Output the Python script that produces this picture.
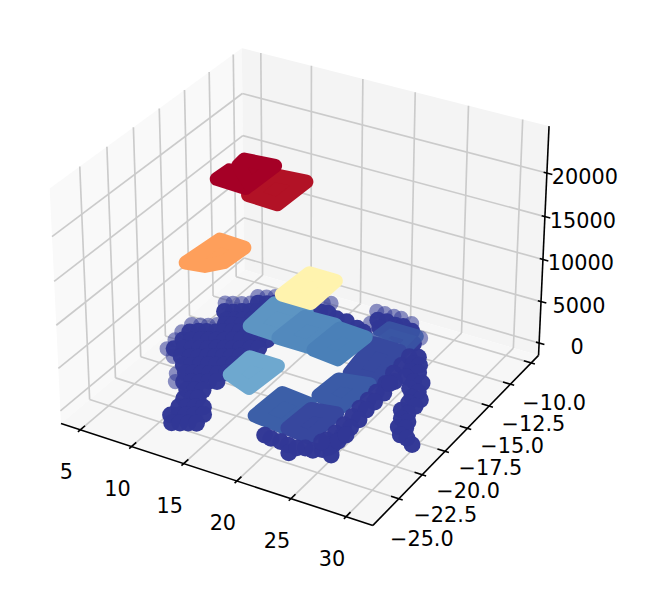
import numpy as np, pandas as pd, altair as alt

# ---- data (x, y); dots sit near z = 200 ----
dot_z = 200
rim = [(5.6,-19.8),(5.4,-18.8),(5.2,-17.9),(5.3,-17.0),(6.0,-16.8),(6.6,-16.6),(7.2,-16.3),(5.9,-14.1),(6.5,-13.9),(7.2,-13.7),
       (7.8,-13.4),(7.8,-12.6),(8.5,-12.4),(9.1,-12.1),(6.7,-20.3),(8.4,-21.7),(9.0,-22.4),(18.5,-12.0),(18.0,-10.7),(18.8,-10.7),
       (19.7,-10.7),(20.4,-10.7),(21.6,-10.9),(23.4,-12.0),(13.3,-11.4),(13.9,-11.2)]
core = [(8.4,-13.2),(9.1,-13.0),(9.7,-12.7),(6.6,-14.9),(7.3,-14.7),(7.9,-14.4),(8.5,-14.2),(9.1,-14.0),(9.8,-13.8),(7.5,-15.6),
        (8.1,-15.4),(8.7,-15.2),(9.4,-14.9),(7.8,-16.1),(8.4,-15.9),(9.1,-15.7),(5.8,-17.7),(6.4,-17.4),(7.0,-17.2),(7.7,-17.0),
        (8.3,-16.8),(8.9,-16.5),(9.5,-16.3),(10.1,-16.1),(6.0,-18.6),(6.6,-18.4),(7.3,-18.1),(7.9,-17.9),(8.5,-17.7),(9.1,-17.5),
        (9.7,-17.2),(10.3,-17.0),(11.0,-16.8),(11.6,-16.6),(12.2,-16.3),(6.1,-19.6),(6.8,-19.3),(7.4,-19.1),(8.0,-18.9),(8.6,-18.7),
        (9.2,-18.4),(9.8,-18.2),(10.4,-18.0),(11.0,-17.8),(11.7,-17.5),(12.3,-17.3),(7.3,-20.1),(8.0,-19.9),(8.6,-19.7),(9.2,-19.4),
        (9.8,-19.2),(10.4,-19.0),(11.0,-18.8),(11.6,-18.5),(8.2,-20.8),(8.8,-20.6),(9.4,-20.3),(10.0,-20.1),(10.6,-19.9),(11.2,-19.7),
        (11.8,-19.4),(9.0,-21.4),(9.6,-21.2),(10.2,-21.0),(10.8,-20.8),(11.4,-20.6),(12.0,-20.3),(9.6,-22.2),(10.2,-22.0),(10.8,-21.8),
        (11.4,-21.5),(12.0,-21.3),(10.5,-22.8),(11.1,-22.6),(11.7,-22.4),(11.0,-23.6),(11.6,-23.4),(12.0,-23.2),(11.3,-24.4),(11.9,-24.2),
        (12.5,-24.0),(13.1,-23.8),(11.4,-25.3),(12.0,-25.1),(12.5,-24.9),(13.1,-24.7),(13.7,-24.4),(12.1,-25.9),(12.7,-25.7),(13.3,-25.5),
        (13.9,-25.3),(13.8,-12.3),(14.5,-12.2),(15.6,-12.5),(16.6,-12.5),(17.9,-12.8),(18.7,-13.0),(18.8,-11.5),(19.6,-11.4),(20.5,-11.5),
        (21.2,-11.4),(22.2,-11.6),(19.6,-12.2),(20.5,-12.3),(21.4,-12.4),(22.3,-12.4),(23.3,-12.7)]
front = [(24.0,-14.0),(24.1,-15.0),(24.1,-15.9),(24.3,-17.0),(24.3,-18.0),(24.3,-18.9),(24.3,-19.8),(24.4,-20.7),(24.4,-21.6),(24.4,-22.5),
         (24.3,-23.3),(24.9,-17.9),(24.9,-18.9),(24.9,-19.8),(25.1,-20.8),(25.1,-21.7),(25.1,-22.6),(25.1,-23.5),(24.7,-13.8),(24.8,-14.5),
         (25.4,-14.5),(25.2,-15.3),(25.9,-15.2),(25.3,-15.9),(26.2,-16.1),(26.9,-16.0),(26.4,-16.8),(27.3,-16.9),(27.2,-17.5),(28.0,-17.5),
         (27.4,-18.1),(28.1,-18.2),(27.4,-18.9),(28.1,-19.0),(28.0,-19.6),(28.7,-19.7),(28.4,-20.4),(29.0,-20.3),(29.1,-21.0),(29.8,-21.1),
         (30.6,-21.5),(24.8,-16.6),(24.6,-16.9),(19.6,-24.5),(20.3,-24.6),(21.2,-24.6),(22.0,-24.7),(22.6,-25.3),(22.8,-24.7),(23.4,-24.5),
         (24.1,-24.5),(24.7,-24.2),(25.7,-24.4),(25.0,-23.8),(25.2,-23.1),(25.3,-22.4),(24.1,-23.6)]
# tiles: colour, height z, corner (x, y) pairs, opacity
tiles = [('#3b57a5', 1200, [(20.8,-14.0),(21.0,-12.7),(23.6,-12.7),(23.7,-14.7)], 0.85),
         ('#37499f', 800, [(21.3,-17.5),(20.7,-14.2),(23.3,-14.2),(23.8,-17.4)], 1),
         ('#5d95c3', 3400, [(12.0,-17.9),(11.9,-15.2),(15.1,-15.2),(15.2,-18.0)], 1),
         ('#5289bd', 3000, [(14.8,-17.9),(15.0,-15.3),(17.9,-15.2),(17.7,-17.9)], 1),
         ('#4a80b8', 2700, [(18.1,-17.8),(18.3,-15.2),(20.9,-15.3),(20.6,-18.0)], 1),
         ('#fff3ae', 12700, [(18.3,-21.3),(18.5,-18.7),(21.0,-18.7),(21.0,-21.3)], 1),
         ('#6ea8cf', 4300, [(15.2,-23.3),(15.2,-21.3),(17.9,-21.3),(17.6,-23.9)], 1),
         ('#3b5ba7', 1300, [(21.1,-20.6),(21.3,-18.7),(23.9,-18.3),(23.6,-20.9)], 1),
         ('#3c5fa8', 1400, [(18.2,-24.0),(18.4,-21.4),(21.2,-21.6),(21.0,-24.2)], 1),
         ('#37479e', 700, [(21.0,-23.7),(21.2,-21.5),(23.4,-21.2),(23.2,-23.9)], 1),
         ('#fe9f5b', 17300, [(12.4,-24.5),(12.8,-21.6),(15.2,-21.7),(15.0,-23.5),(14.0,-24.3)], 1),
         ('#b21226', 23300, [(15.6,-21.7),(15.6,-19.2),(18.5,-19.0),(18.4,-21.8)], 1),
         ('#a50026', 24000, [(12.6,-21.6),(12.7,-20.5),(15.2,-20.4),(15.4,-21.7)], 1),
         ('#a50026', 24000, [(12.9,-19.8),(12.8,-19.1),(15.5,-18.9),(15.4,-21.3)], 1)]
xticks = [5, 10, 15, 20, 25, 30]
yticks = [-25, -22.5, -20, -17.5, -15, -12.5, -10]
zticks = [0, 5000, 10000, 15000, 20000]
X0, X1, Y0, Y1, Z0, Z1 = 3.1, 32.4, -27.7, -9.1, -1500, 25300

# ---- 3D view (elev 30, azim -60, perspective) ----
S, ox, oy = 3001.05, 304.19, 275.33
el, az = np.radians(30), np.radians(-60)
A = np.array([4, 4, 3.]) * 1.8294640721620434 * 25 / 24 / np.linalg.norm([4, 4, 3.])
D = 10.
w = np.array([np.cos(el) * np.cos(az), np.cos(el) * np.sin(az), np.sin(el)])
eye = A / 2 + D * w
u = np.cross([0, 0, 1.], w); u /= np.linalg.norm(u)
v = np.cross(w, u)
def pr(x, y, z):
    p = np.array([(x - X0) / (X1 - X0), (y - Y0) / (Y1 - Y0), (z - Z0) / (Z1 - Z0)]) * A - eye
    d = -(p @ w)
    return S * (p @ u) / d + ox, oy - S * (p @ v) / d

xs_ = alt.Scale(domain=[8, 662])
ys_ = alt.Scale(domain=[582, 8])
X = lambda: alt.X('x:Q', scale=xs_, axis=None)
Y = lambda: alt.Y('y:Q', scale=ys_, axis=None)

def poly(pts3, color, op=1):
    p = [pr(*q) for q in pts3]
    n = len(p)
    rows = []
    for x in sorted({a for a, b in p}):
        ys = []
        for i in range(n):
            a, b = p[i]
            c, d = p[(i + 1) % n]
            if min(a, c) <= x <= max(a, c):
                ys += [b, d] if a == c else [b + (d - b) * (x - a) / (c - a)]
        rows.append(dict(x=x, y=min(ys), y2=max(ys)))
    return alt.Chart(pd.DataFrame(rows)).mark_area(color=color, opacity=op, strokeWidth=0).encode(X(), Y(), alt.Y2('y2:Q'))

def segs(lst, color, width):
    rows = []
    for a, b in lst:
        pa, pb = pr(*a), pr(*b)
        rows.append(dict(x=pa[0], y=pa[1], x2=pb[0], y2=pb[1]))
    return alt.Chart(pd.DataFrame(rows)).mark_rule(color=color, strokeWidth=width).encode(X(), Y(), alt.X2('x2:Q'), alt.Y2('y2:Q'))

def dots(pts, alpha, size=285):
    rows = [dict(zip('xy', pr(a, b, dot_z))) for a, b in pts]
    return alt.Chart(pd.DataFrame(rows)).mark_circle(size=size, color='#323896', opacity=alpha).encode(X(), Y())

def labs(vals, fn, dx, dy, fmt):
    rows = [dict(x=pr(*fn(t))[0], y=pr(*fn(t))[1], t=fmt(t)) for t in vals]
    return alt.Chart(pd.DataFrame(rows)).mark_text(font='DejaVu Sans', fontSize=20.8, color='black', dx=dx, dy=dy,
                                                   align='center', baseline='middle').encode(X(), Y(), text='t:N')

layers = [poly([(X0, Y0, Z0), (X0, Y1, Z0), (X0, Y1, Z1), (X0, Y0, Z1)], '#f9f9f9'),
          poly([(X0, Y1, Z0), (X1, Y1, Z0), (X1, Y1, Z1), (X0, Y1, Z1)], '#f4f4f4'),
          poly([(X0, Y0, Z0), (X1, Y0, Z0), (X1, Y1, Z0), (X0, Y1, Z0)], '#f7f7f7')]
g = []
for t in xticks:
    g += [((t, Y0, Z0), (t, Y1, Z0)), ((t, Y1, Z0), (t, Y1, Z1))]
for t in yticks:
    g += [((X1, t, Z0), (X0, t, Z0)), ((X0, t, Z0), (X0, t, Z1))]
for t in zticks:
    g += [((X0, Y0, t), (X0, Y1, t)), ((X0, Y1, t), (X1, Y1, t))]
layers.append(segs(g, '#cbcbcb', 1.67))
ax = [((X0, Y0, Z0), (X1, Y0, Z0)), ((X1, Y0, Z0), (X1, Y1, Z0)), ((X1, Y1, Z0), (X1, Y1, Z1))]
ax += [((t, Y0 - .22, Z0), (t, Y0 + .45, Z0)) for t in xticks]
ax += [((X1 + .35, t, Z0), (X1 - .7, t, Z0)) for t in yticks]
ax += [((X1 - .3, Y1, t), (X1 + .5, Y1, t)) for t in zticks]
layers.append(segs(ax, '#000000', 1.6))
layers.append(dots(rim, 0.55, 230))
layers.append(dots(core, 0.99))
for c, z, q, op in tiles:
    p3 = [(a, b, z) for a, b in q]
    layers.append(poly(p3, c, op))
    rows = [dict(x=pr(*q_)[0], y=pr(*q_)[1], i=i) for i, q_ in enumerate(p3 + p3[:1])]
    layers.append(alt.Chart(pd.DataFrame(rows)).mark_line(color=c, opacity=op, strokeWidth=14, strokeJoin='round', strokeCap='round')
                  .encode(X(), Y(), order='i:Q'))
layers.append(dots(front, 0.99))
layers.append(labs(xticks, lambda t: (t, Y0, Z0), -14, 43, str))
layers.append(labs(yticks, lambda t: (X1, t, Z0), 23, 41, lambda t: ('%.1f' % t).replace('-', '\u2212')))
layers.append(labs(zticks, lambda t: (X1, Y1, t), 38, 5, str))
chart = alt.layer(*layers).properties(width=654, height=574, padding=0).configure_view(stroke=None)
chart.save("out.html", embed_options={"renderer": "svg", "actions": False})
